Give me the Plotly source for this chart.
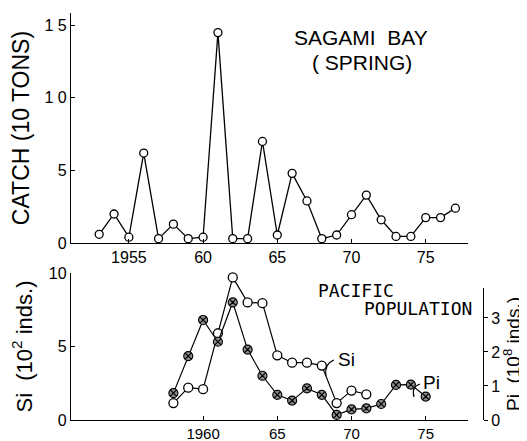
import plotly.graph_objects as go

# ---- data ----
catch_years = list(range(1953, 1978))
catch_vals = [0.6, 2.0, 0.4, 6.2, 0.3, 1.3, 0.3, 0.4, 14.5, 0.3, 0.3, 7.0, 0.55,
              4.8, 2.9, 0.3, 0.55, 1.95, 3.3, 1.6, 0.45, 0.45, 1.75, 1.75, 2.4]

si_years = list(range(1958, 1972))
si_vals = [1.15, 2.2, 2.1, 5.9, 9.7, 8.0, 7.95, 4.4, 3.9, 3.9, 3.7, 1.15, 2.0, 1.75]

pi_years = list(range(1958, 1976))
pi_vals = [0.79, 1.88, 2.94, 2.3, 3.46, 2.07, 1.3, 0.74, 0.57, 0.93, 0.74, 0.15,
           0.31, 0.34, 0.47, 1.03, 1.04, 0.69]

top_xtickvals = [1955, 1960, 1965, 1970, 1975]
top_xticktext = ["1955", "60", "65", "70", "75"]
bot_xtickvals = [1960, 1965, 1970, 1975]
bot_xticktext = ["1960", "65", "70", "75"]
catch_tickvals = [0, 5, 10, 15]
catch_ticktext = ["0", "5", "1 0", "1 5"]
si_tickvals = [0, 5, 10]
pi_tickvals = [0, 1, 2, 3]

FONT = "Liberation Sans, Arial, sans-serif"
MONO = "DejaVu Sans Mono, monospace"
OFF = 8  # page body margin
W, H = 527 - OFF, 441 - OFF
# layout in reference pixel coordinates
L_X, R_X, T_Y, B_Y = 71, 483, 13, 420
ML, MR, MT, MB = L_X - OFF, 527 - R_X, T_Y - OFF, 441 - B_Y
PW, PH = W - ML - MR, H - MT - MB


def px_x(x):
    return (x - L_X) / PW


def px_y(y):
    return (B_Y - y) / PH


fig = go.Figure()
fig.add_trace(go.Scatter(
    x=catch_years, y=catch_vals, mode="lines+markers", xaxis="x", yaxis="y",
    line=dict(color="black", width=1.3),
    marker=dict(symbol="circle", size=8, color="white", line=dict(color="black", width=1.3)),
    showlegend=False, cliponaxis=False))
fig.add_trace(go.Scatter(
    x=pi_years, y=pi_vals, mode="lines+markers", xaxis="x2", yaxis="y3", name="Pi",
    line=dict(color="black", width=1.2),
    marker=dict(symbol="circle-x", size=9, color="#8f8f8f", line=dict(color="black", width=1.2)),
    showlegend=False, cliponaxis=False))
fig.add_trace(go.Scatter(
    x=si_years, y=si_vals, mode="lines+markers", xaxis="x2", yaxis="y2", name="Si",
    line=dict(color="black", width=1.2),
    marker=dict(symbol="circle", size=9, color="white", line=dict(color="black", width=1.3)),
    showlegend=False, cliponaxis=False))

xr = [1951.1, 1977.85]
xdom = [0, px_x(468)]
axis_common = dict(showline=True, linecolor="black", linewidth=1.3, showgrid=False,
                   zeroline=False, ticks="inside", ticklen=4, tickcolor="black",
                   tickfont=dict(family=FONT, size=16, color="black"))
bot_x_common = dict(axis_common)
bot_x_common["tickfont"] = dict(family=FONT, size=15, color="black")

fig.update_layout(
    width=W, height=H,
    margin=dict(l=ML, r=MR, t=MT, b=MB, autoexpand=False),
    paper_bgcolor="white", plot_bgcolor="rgba(0,0,0,0)",
    xaxis=dict(domain=xdom, anchor="y", range=xr, tickvals=top_xtickvals,
               ticktext=top_xticktext, **axis_common),
    yaxis=dict(domain=[px_y(243), 1], anchor="x", range=[0, 15.85],
               tickvals=catch_tickvals, ticktext=catch_ticktext,
               title=dict(text="CATCH (10 TONS)", font=dict(family=FONT, size=23, color="black"),
                          standoff=10),
               **axis_common),
    xaxis2=dict(domain=xdom, anchor="y2", range=xr, tickvals=bot_xtickvals,
                ticktext=bot_xticktext, **bot_x_common),
    yaxis2=dict(domain=[0, px_y(273)], anchor="x2", range=[0, 10], tickvals=si_tickvals,
                title=dict(text="Si  (10<sup>2</sup> inds.)", font=dict(family=FONT, size=22, color="black"),
                           standoff=10),
                **axis_common),
    yaxis3=dict(domain=[0, px_y(288)], anchor="free", position=1.0, side="right",
                range=[0, 3.88], tickvals=pi_tickvals,
                title=dict(text="Pi  (10<sup>8</sup> inds.)", font=dict(family=FONT, size=19, color="black"),
                           standoff=3),
                showline=True, linecolor="black", linewidth=1.3, showgrid=False,
                zeroline=False, ticks="outside", ticklen=4, tickcolor="black",
                tickfont=dict(family=FONT, size=16, color="black")),
)


def note(text, x, y, font, size, xanchor="center"):
    fig.add_annotation(text=text, xref="paper", yref="paper", x=px_x(x), y=px_y(y),
                       xanchor=xanchor, yanchor="middle", showarrow=False,
                       font=dict(family=font, size=size, color="black"))


note("SAGAMI  BAY", 361, 37, FONT, 21)
note("( SPRING)", 362, 62, FONT, 21)
note("PACIFIC", 316, 290, MONO, 18, "left")
note("POPULATION", 474, 308, MONO, 18, "right")
note("Si", 336, 359, FONT, 19, "left")
note("Pi", 421, 382, FONT, 19, "left")


def leader(pts):
    xs = [px_x(p[0]) for p in pts]
    ys = [px_y(p[1]) for p in pts]
    d = "M %f %f Q %f %f %f %f" % (xs[0], ys[0], xs[1], ys[1], xs[2], ys[2])
    fig.add_shape(type="path", path=d, xref="paper", yref="paper",
                  line=dict(color="black", width=1.1))


leader([(334, 360), (324, 364), (326, 376)])
leader([(420, 384), (411, 387), (414, 397)])

fig.write_html("out.html")
